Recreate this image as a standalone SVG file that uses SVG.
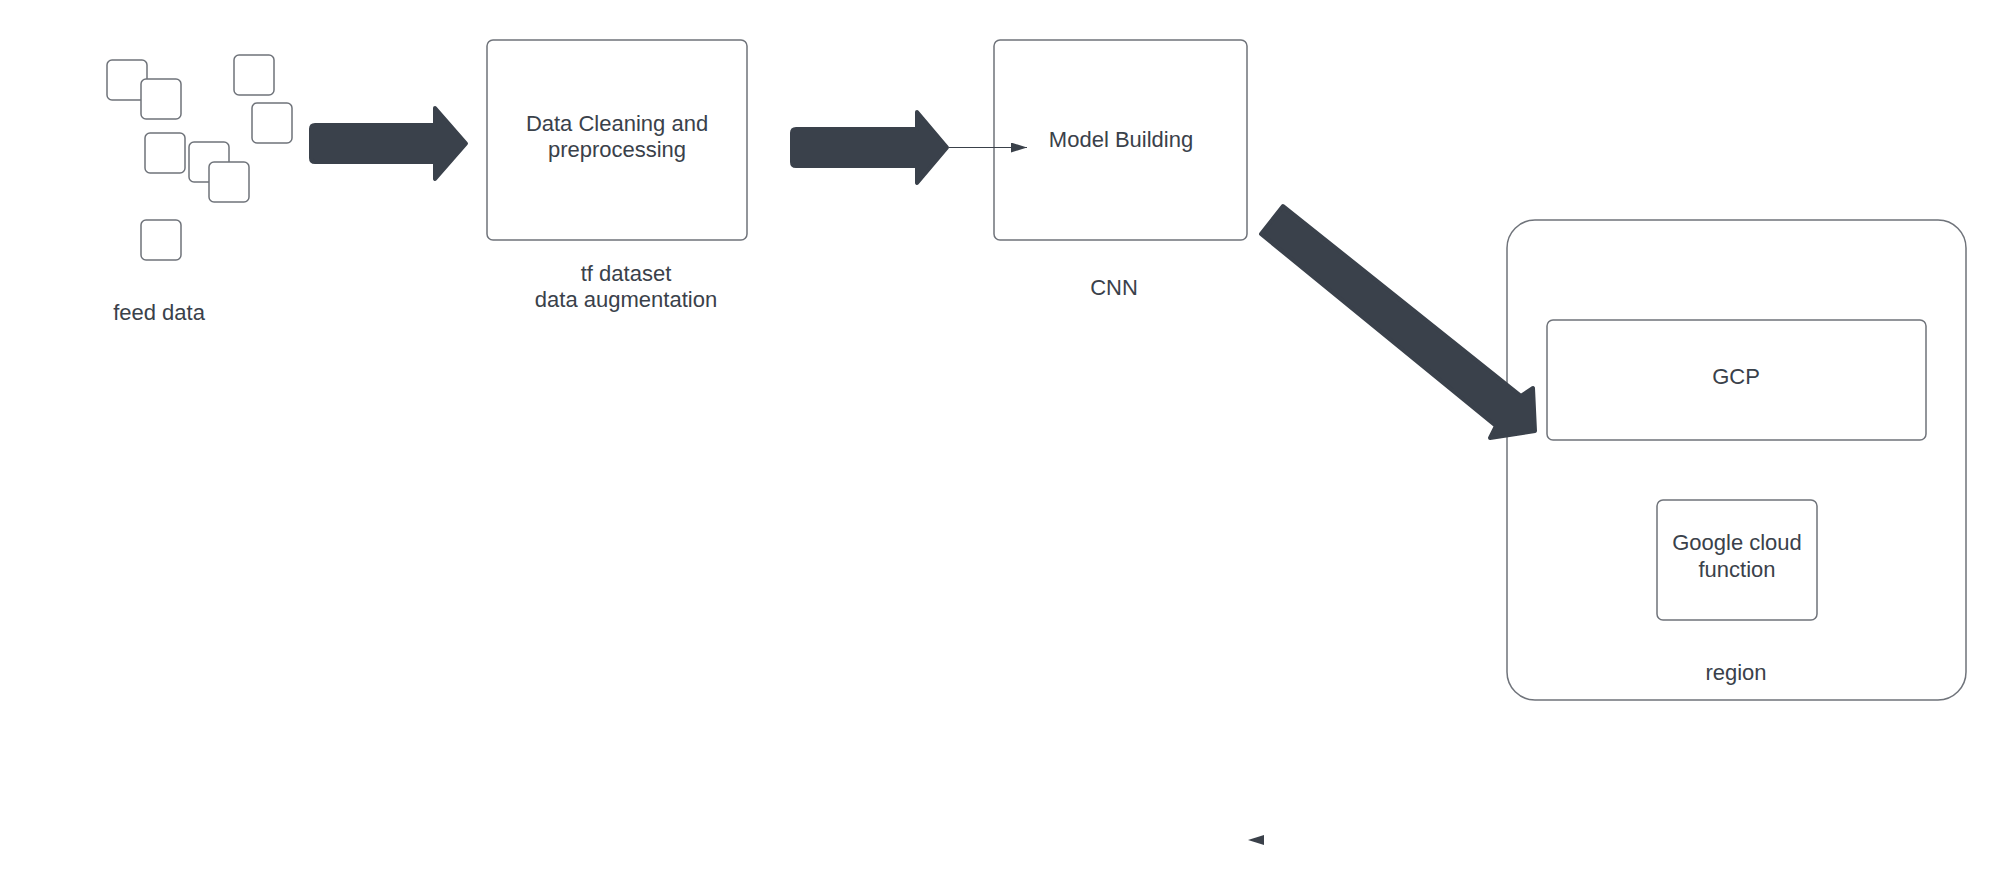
<svg xmlns="http://www.w3.org/2000/svg" width="2007" height="885" viewBox="0 0 2007 885">
<style>
.box{fill:#ffffff;stroke:#6f737a;stroke-width:1.5}
.txt{font-family:"Liberation Sans",Arial,sans-serif;font-size:22px;fill:#3a414a;text-anchor:middle}
.big{fill:#3a414b;stroke:#3a414b;stroke-width:4;stroke-linejoin:round}
.thin{stroke:#3a414a;stroke-width:1.2;fill:none}
</style>
<defs>
<marker id="ah" markerWidth="16" markerHeight="10" refX="16" refY="5" orient="auto" markerUnits="userSpaceOnUse">
<path d="M0,0 L16,5 L0,10 Z" fill="#3a414a"/>
</marker>
</defs>
<rect width="2007" height="885" fill="#ffffff"/>

<g id="feed-data">
<rect class="box" x="107" y="60" width="40" height="40" rx="5"/>
<rect class="box" x="141" y="79" width="40" height="40" rx="5"/>
<rect class="box" x="234" y="55" width="40" height="40" rx="5"/>
<rect class="box" x="252" y="103" width="40" height="40" rx="5"/>
<rect class="box" x="145" y="133" width="40" height="40" rx="5"/>
<rect class="box" x="189" y="142" width="40" height="40" rx="5"/>
<rect class="box" x="209" y="162" width="40" height="40" rx="5"/>
<rect class="box" x="141" y="220" width="40" height="40" rx="5"/>
<text class="txt" x="159" y="320">feed data</text>
</g>

<g id="data-cleaning">
<rect class="box" x="487" y="40" width="260" height="200" rx="6"/>
<text class="txt" x="617" y="131">Data Cleaning and</text>
<text class="txt" x="617" y="157">preprocessing</text>
<text class="txt" x="626" y="281">tf dataset</text>
<text class="txt" x="626" y="307">data augmentation</text>
</g>

<g id="model-building">
<rect class="box" x="994" y="40" width="253" height="200" rx="6"/>
<text class="txt" x="1121" y="147">Model Building</text>
<text class="txt" x="1114" y="295">CNN</text>
</g>

<g id="region">
<rect class="box" x="1507" y="220" width="459" height="480" rx="28"/>
<text class="txt" x="1736" y="680">region</text>
</g>

<g id="gcp">
<rect class="box" x="1547" y="320" width="379" height="120" rx="6"/>
<text class="txt" x="1736" y="384">GCP</text>
</g>

<g id="gcf">
<rect class="box" x="1657" y="500" width="160" height="120" rx="6"/>
<text class="txt" x="1737" y="550">Google cloud</text>
<text class="txt" x="1737" y="577">function</text>
</g>

<g id="connectors">
<path class="big" d="M315,125 H435 V108 L466,143.5 L435,179 V162 H315 Q311,162 311,158 V129 Q311,125 315,125 Z"/>
<path class="big" d="M796,129 H917 V112 L947,147.5 L917,183 V166 H796 Q792,166 792,162 V133 Q792,129 796,129 Z"/>
<line class="thin" x1="949" y1="147.5" x2="1027" y2="147.5" marker-end="url(#ah)"/>
<path class="big" d="M1283,206 L1521,396 L1533,388 L1535,431 L1490,438 L1496,426 L1261,234 Z"/>
<path d="M1248,840 L1264,835 L1264,845 Z" fill="#3a414a"/>
</g>
</svg>
